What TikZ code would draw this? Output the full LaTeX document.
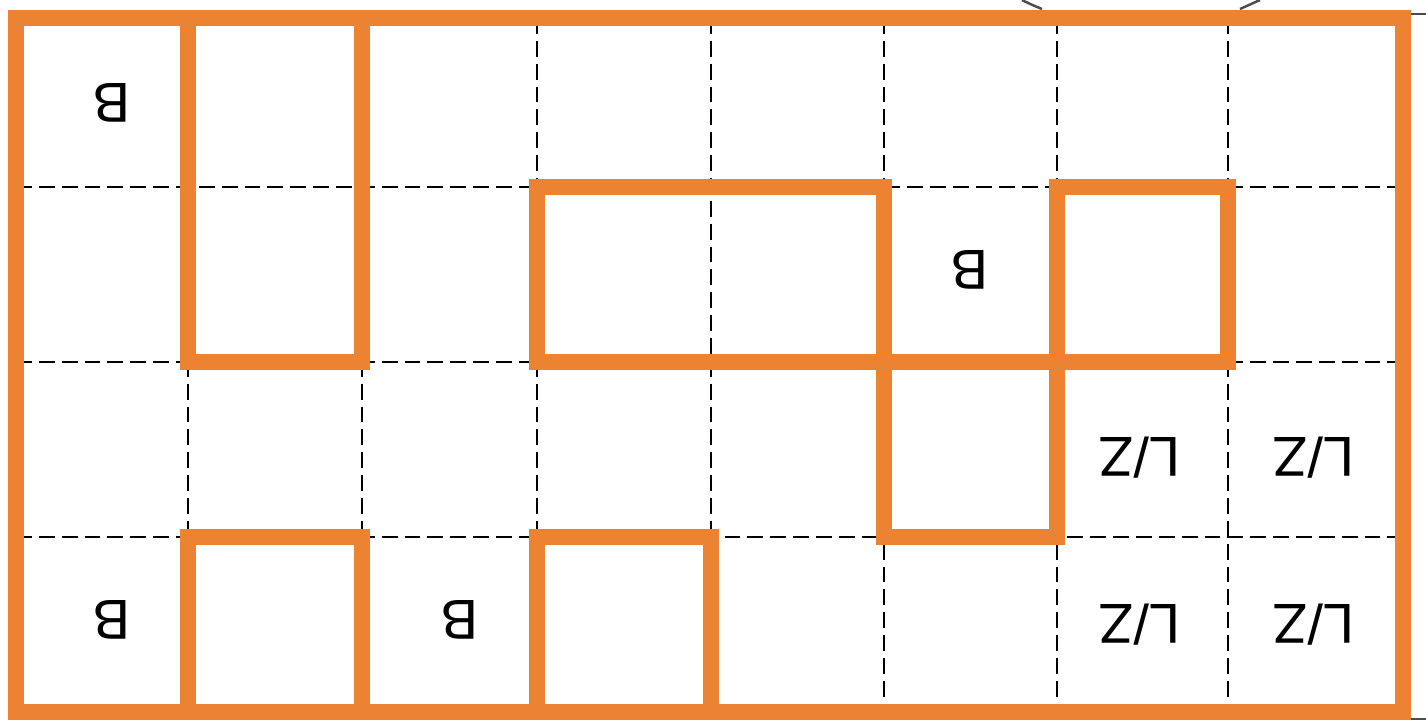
\documentclass[tikz,border=0pt]{standalone}
\usepackage{fontspec}
\setmainfont{Liberation Sans}
\definecolor{org}{HTML}{EC8333}
\begin{document}
\begin{tikzpicture}[x=0.01cm,y=-0.01cm,
  grid/.style={black,line width=0.6pt,dash pattern=on 4.5pt off 2pt},
  obox/.style={draw=org,line width=4.8pt,line join=miter},
  lab/.style={font=\fontsize{16}{18}\selectfont,rotate=180,inner sep=0pt},
  thin/.style={black!70,line width=0.7pt}]
\useasboundingbox (0,0) rectangle (1426,726);
% dashed grid
\foreach \x in {188,362,537,711,884,1057,1228}
  \draw[grid] (\x,18) -- (\x,712);
\foreach \y in {187,362,537}
  \draw[grid] (16,\y) -- (1403,\y);
% orange boxes
\draw[obox] (188,18) rectangle (362,362);
\draw[obox] (537,187) rectangle (884,362);
\draw[obox] (1057,187) rectangle (1228,362);
\draw[obox] (884,362) rectangle (1057,537);
\draw[obox] (884,187) -- (884,362);
\draw[obox] (188,537) rectangle (362,712);
\draw[obox] (537,537) rectangle (711,712);
% outer frame
\draw[obox] (16,18) rectangle (1403,712);
% small marks
\draw[thin] (1022,0) .. controls (1030,4) .. (1042,9);
\draw[thin] (1240,9) .. controls (1250,5) .. (1260,0);
\draw[thin] (1411,14) -- (1426,14);
\draw[thin] (1411,719) -- (1426,719);
% labels
\node[lab] (b1) at (112,103) {B};
\node[lab] (b2) at (970,270) {B};
\node[lab] (b3) at (112,620) {B};
\node[lab] (b4) at (460,620) {B};
\node[lab] (l1) at (1140,458) {L/Z};
\node[lab] (l2) at (1314,458) {L/Z};
\node[lab] (l3) at (1140,625) {L/Z};
\node[lab] (l4) at (1314,625) {L/Z};
\end{tikzpicture}
\end{document}
